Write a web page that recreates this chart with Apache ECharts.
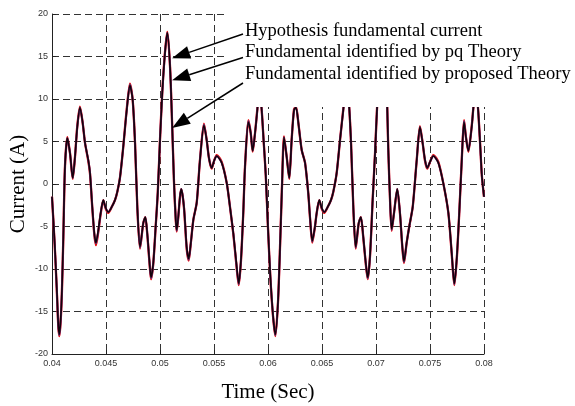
<!DOCTYPE html>
<html><head><meta charset="utf-8">
<script src="https://cdn.jsdelivr.net/npm/echarts/dist/echarts.min.js"></script>
<style>html,body{margin:0;padding:0;background:#fff}#c{width:575px;height:406px}</style>
</head><body><div id="c"></div>
<script>
// Time (s)
const time = [
0.04000,0.04025,0.04045,0.04058,0.04068,0.04080,0.04092,0.04105,0.04120,0.04142,
0.04167,0.04192,0.04213,0.04234,0.04259,0.04284,0.04306,0.04336,0.04352,0.04373,
0.04392,0.04407,0.04429,0.04451,0.04475,0.04497,0.04521,0.04553,0.04583,0.04605,
0.04630,0.04660,0.04692,0.04722,0.04747,0.04769,0.04790,0.04815,0.04845,0.04864,
0.04882,0.04901,0.04917,0.04938,0.04960,0.04979,0.05000,0.05021,0.05046,0.05068,
0.05093,0.05114,0.05130,0.05146,0.05155,0.05185,0.05197,0.05222,0.05247,0.05266,
0.05285,0.05309,0.05340,0.05370,0.05407,0.05432,0.05454,0.05479,0.05500,0.05525,
0.05571,0.05618,0.05648,0.05679,0.05704,0.05729,0.05750,0.05771,0.05787,0.05818,
0.05840,0.05858,0.05880,0.05901,0.05917,0.05938,0.05960,0.05979,0.06000,0.06021,
0.06046,0.06068,0.06093,0.06114,0.06130,0.06148,0.06173,0.06197,0.06219,0.06241,
0.06259,0.06281,0.06312,0.06343,0.06373,0.06389,0.06410,0.06435,0.06451,0.06475,
0.06497,0.06521,0.06553,0.06583,0.06605,0.06636,0.06667,0.06697,0.06722,0.06747,
0.06769,0.06790,0.06812,0.06840,0.06860,0.06882,0.06903,0.06923,0.06944,0.06969,
0.06991,0.07012,0.07037,0.07068,0.07093,0.07114,0.07130,0.07145,0.07167,0.07197,
0.07222,0.07244,0.07259,0.07284,0.07308,0.07340,0.07377,0.07407,0.07432,0.07454,
0.07475,0.07500,0.07531,0.07577,0.07623,0.07670,0.07701,0.07725,0.07747,0.07771,
0.07794,0.07815,0.07833,0.07855,0.07886,0.07901,0.07921,0.07944,0.07965,0.07980,0.08000
];
// Fundamental identified by pq Theory (red)
const pqTheory = [
-1.5,-7.2,-12.7,-16.7,-17.9,-16.2,-12.6,-6.2,2.0,5.5,
3.6,0.6,3.2,6.8,9.1,7.2,4.8,2.7,1.2,-2.8,
-6.0,-7.2,-5.6,-3.5,-1.9,-2.9,-3.4,-2.7,-1.9,-0.9,
0.8,4.4,8.8,11.8,9.9,4.8,-2.8,-7.6,-4.6,-3.9,
-5.9,-9.0,-11.2,-9.3,-5.0,-1.1,5.2,10.8,15.5,17.9,
13.8,6.4,0.1,-4.3,-5.6,-1.5,-0.6,-2.8,-7.6,-9.0,
-7.0,-4.2,-2.2,2.8,7.1,5.2,3.0,1.8,2.7,3.4,
2.6,0.1,-2.7,-5.9,-9.1,-11.9,-9.0,-3.4,2.0,7.5,
6.0,3.8,6.0,8.8,11.2,9.3,5.0,1.1,-5.2,-10.8,
-15.5,-17.9,-13.8,-6.4,-0.1,5.6,3.2,0.6,5.2,8.8,
9.1,7.2,4.0,2.5,-1.1,-4.0,-6.9,-5.0,-3.4,-1.9,
-2.9,-3.4,-2.7,-1.9,-0.9,1.3,5.2,8.8,11.8,9.9,
4.8,-2.8,-7.6,-4.6,-3.9,-6.3,-9.1,-11.2,-8.6,-1.9,
3.6,9.6,14.6,17.9,13.8,4.0,-1.9,-5.5,-3.4,-0.6,
-3.5,-7.5,-9.3,-6.9,-5.0,-2.7,2.8,6.8,4.8,2.7,
1.8,2.6,3.4,2.6,0.1,-3.4,-8.2,-11.9,-9.0,-3.4,
2.8,7.5,5.5,3.8,6.8,8.9,11.2,9.0,4.5,1.0,-1.5
];
// Hypothesis fundamental current (blue)
const hypothesis = [
-1.5,-7.1,-12.6,-16.6,-17.8,-16.1,-12.5,-6.2,2.0,5.4,
3.6,0.7,3.2,6.7,9.0,7.2,4.8,2.8,1.3,-2.7,
-5.9,-7.0,-5.5,-3.4,-1.9,-2.8,-3.3,-2.7,-1.9,-0.9,
0.8,4.4,8.7,11.7,9.9,4.8,-2.7,-7.5,-4.6,-3.9,
-5.8,-8.9,-11.1,-9.3,-5.0,-1.1,5.2,10.7,15.4,17.8,
13.8,6.4,0.1,-4.2,-5.5,-1.5,-0.6,-2.7,-7.5,-8.9,
-7.0,-4.2,-2.2,2.8,7.0,5.2,3.0,1.9,2.7,3.3,
2.5,0.1,-2.7,-5.8,-9.0,-11.8,-8.9,-3.4,2.0,7.4,
6.0,3.9,6.0,8.7,11.1,9.3,5.0,1.1,-5.2,-10.7,
-15.4,-17.8,-13.8,-6.4,-0.1,5.5,3.2,0.7,5.2,8.7,
9.0,7.2,4.0,2.5,-1.1,-3.9,-6.8,-5.0,-3.4,-1.9,
-2.8,-3.3,-2.7,-1.9,-0.9,1.3,5.2,8.7,11.7,9.9,
4.8,-2.7,-7.5,-4.6,-3.9,-6.2,-9.0,-11.1,-8.6,-1.9,
3.6,9.5,14.5,17.8,13.8,4.0,-1.9,-5.4,-3.4,-0.6,
-3.4,-7.4,-9.2,-6.9,-5.0,-2.7,2.8,6.7,4.8,2.8,
1.9,2.6,3.3,2.5,0.1,-3.4,-8.1,-11.8,-8.9,-3.4,
2.8,7.4,5.5,3.9,6.7,8.9,11.1,9.0,4.5,1.0,-1.5
];
// Fundamental identified by proposed Theory (black)
const proposed = [
-1.5,-7.0,-12.5,-16.5,-17.7,-16.0,-12.5,-6.2,2.0,5.4,
3.6,0.7,3.2,6.7,9.0,7.2,4.8,2.8,1.3,-2.7,
-5.8,-6.9,-5.4,-3.4,-1.9,-2.8,-3.3,-2.7,-1.9,-0.9,
0.8,4.4,8.7,11.6,9.9,4.8,-2.7,-7.4,-4.6,-3.9,
-5.8,-8.9,-11.0,-9.3,-5.0,-1.1,5.2,10.7,15.4,17.8,
13.8,6.4,0.1,-4.2,-5.4,-1.5,-0.6,-2.7,-7.4,-8.8,
-7.0,-4.2,-2.2,2.8,6.9,5.2,3.0,1.9,2.7,3.3,
2.5,0.1,-2.7,-5.8,-8.9,-11.7,-8.9,-3.4,2.0,7.3,
6.0,3.9,6.0,8.7,11.0,9.3,5.0,1.1,-5.2,-10.7,
-15.4,-17.7,-13.8,-6.4,-0.1,5.5,3.2,0.7,5.2,8.7,
9.0,7.2,4.0,2.5,-1.1,-3.9,-6.7,-5.0,-3.4,-1.9,
-2.8,-3.3,-2.7,-1.9,-0.9,1.3,5.2,8.7,11.6,9.9,
4.8,-2.7,-7.4,-4.6,-3.9,-6.2,-9.0,-11.0,-8.6,-1.9,
3.6,9.5,14.5,17.8,13.8,4.0,-1.9,-5.3,-3.4,-0.6,
-3.4,-7.4,-9.1,-6.9,-5.0,-2.7,2.8,6.7,4.8,2.8,
1.9,2.6,3.3,2.5,0.1,-3.4,-8.1,-11.7,-8.9,-3.4,
2.8,7.3,5.5,3.9,6.7,8.9,11.0,9.0,4.5,1.0,-1.5
];
const xTickLabels = ['0.04','0.045','0.05','0.055','0.06','0.065','0.07','0.075','0.08'];
const yTickLabels = ['-20','-15','-10','-5','0','5','10','15','20'];
const annotations = ['Hypothesis fundamental current','Fundamental identified by pq Theory','Fundamental identified by proposed Theory'];
// arrow tips in data coordinates [time, current]
const arrowTips = [[0.05112,14.8],[0.05112,12.2],[0.05112,6.6]];

const pairs = v => time.map((t,i)=>[t,v[i]]);
const chart = echarts.init(document.getElementById('c'), null, {renderer:'canvas'});
const gridDash = {type:[7,4], color:'#333', width:1};
const tickFont = {fontFamily:'Liberation Sans, Arial', fontSize:9, color:'#333'};
const lineSeries = (name, data, color, width, z) => ({
  name, type:'line', data:pairs(data), showSymbol:false, smooth:0.25, z,
  lineStyle:{color, width}, emphasis:{disabled:true}, animation:false
});
chart.setOption({
  animation:false,
  grid:{left:52, right:91, top:14, bottom:52, containLabel:false, outerBoundsMode:'none'},
  xAxis:{type:'value', min:0.04, max:0.08, interval:0.005,
    axisLine:{show:true, onZero:false, lineStyle:{color:'#222', width:1}},
    axisTick:{show:true, inside:true, length:4, lineStyle:{color:'#222'}},
    axisLabel:Object.assign({margin:5, showMinLabel:true, showMaxLabel:true,
      formatter:v=>xTickLabels[Math.round((v-0.04)/0.005)]}, tickFont),
    splitLine:{show:true, lineStyle:gridDash},
    name:'Time (Sec)', nameLocation:'middle', nameGap:28, nameMoveOverlap:false,
    nameTextStyle:{fontFamily:'Liberation Serif, Times New Roman', fontSize:21, color:'#000'}
  },
  yAxis:{type:'value', min:-20, max:20, interval:5,
    axisLine:{show:true, onZero:false, lineStyle:{color:'#222', width:1}},
    axisTick:{show:true, inside:true, length:4, lineStyle:{color:'#222'}},
    axisLabel:Object.assign({margin:4, formatter:v=>yTickLabels[Math.round((v+20)/5)]}, tickFont),
    splitLine:{show:true, lineStyle:gridDash},
    name:'Current (A)', nameLocation:'middle', nameGap:23, nameRotate:90, nameMoveOverlap:false,
    nameTextStyle:{fontFamily:'Liberation Serif, Times New Roman', fontSize:21, color:'#000'}
  },
  series:[
    lineSeries('Fundamental identified by pq Theory', pqTheory, '#ee0000', 2.3, 2),
    lineSeries('Hypothesis fundamental current', hypothesis, '#6a3a8a', 2.0, 3),
    lineSeries('Fundamental identified by proposed Theory', proposed, '#140008', 1.6, 4)
  ]
});

// annotation overlay: white box behind texts, texts, arrows
const boxCorner = chart.convertToPixel({gridIndex:0}, [0.0561, 9.05]);
const tips = arrowTips.map(p => chart.convertToPixel({gridIndex:0}, p));
const g = [];
g.push({type:'rect', z:100, shape:{x:boxCorner[0], y:0, width:575-boxCorner[0], height:boxCorner[1]},
  style:{fill:'#fff'}, silent:true});
const textX = 245, lineY0 = 31, lineStep = 21.5;
annotations.forEach((s,i)=>{
  g.push({type:'text', z:101, x:textX, y:lineY0+i*lineStep,
    style:{text:s, fill:'#000', font:'18.5px "Liberation Serif", "Times New Roman", serif',
      textAlign:'left', textVerticalAlign:'middle'}});
  const tail = [textX-2, lineY0+i*lineStep+3 + (i===2?6:i*2)];
  const tip = tips[i];
  const dx = tip[0]-tail[0], dy = tip[1]-tail[1], L = Math.hypot(dx,dy);
  const ux = dx/L, uy = dy/L, hl = 18, hw = 6.5;
  const bx = tip[0]-ux*hl, by = tip[1]-uy*hl;
  g.push({type:'line', z:101, shape:{x1:tail[0], y1:tail[1], x2:bx, y2:by},
    style:{stroke:'#000', lineWidth:1.5}});
  g.push({type:'polygon', z:101, shape:{points:[[tip[0],tip[1]],[bx-uy*hw, by+ux*hw],[bx+uy*hw, by-ux*hw]]},
    style:{fill:'#000'}});
});
chart.setOption({graphic:g});
</script>
</body></html>
